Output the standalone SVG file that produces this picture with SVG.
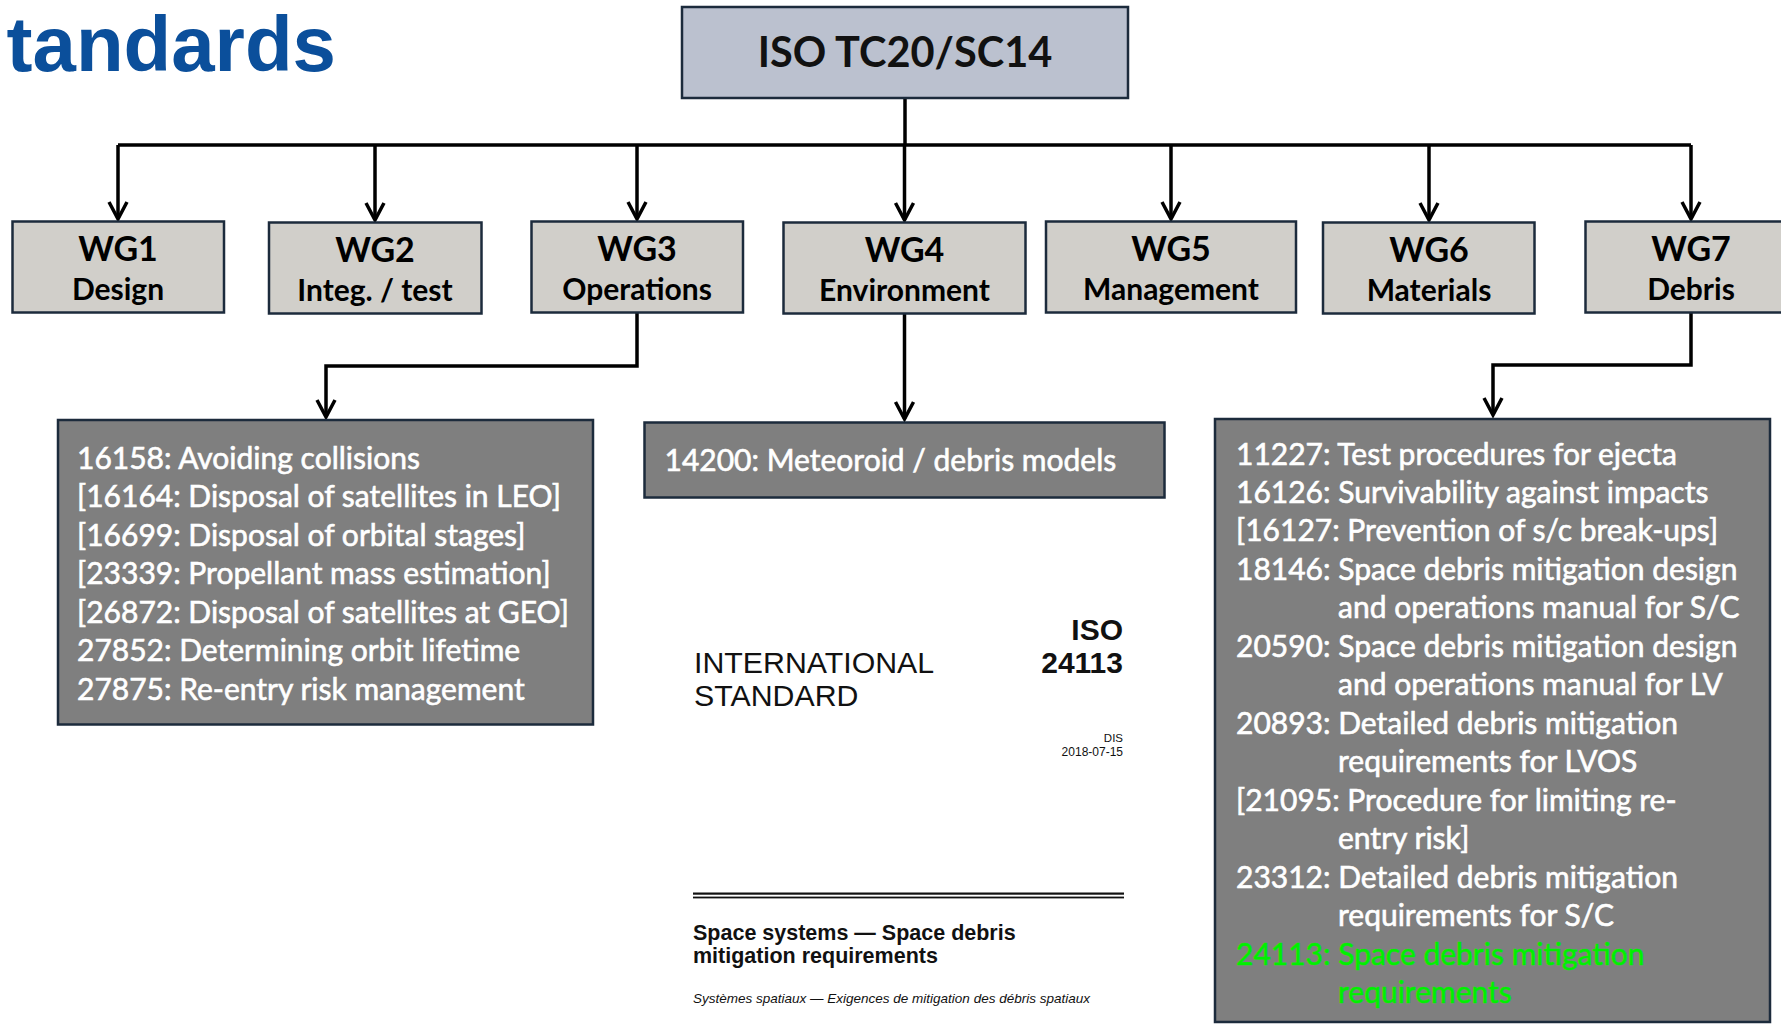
<svg xmlns="http://www.w3.org/2000/svg" width="1781" height="1025" viewBox="0 0 1781 1025">
<style>
.title{font-family:"Liberation Sans",Arial,sans-serif;font-weight:700;font-size:78px;fill:#0b4f9b}
.top rect{fill:#bbc1cf;stroke:#1c2b3c;stroke-width:2.5}
.top text{font-family:Lato,"Open Sans",sans-serif;font-weight:700;font-size:41.5px;fill:#111;text-anchor:middle}
.wg rect{fill:#d1cfca;stroke:#1c2b3c;stroke-width:2.5}
.wg text{font-family:Lato,"Open Sans",sans-serif;font-weight:700;fill:#000;text-anchor:middle}
.wg .a{font-size:34px}
.wg .b{font-size:30px}
.list rect{fill:#7f7f7f;stroke:#1c2b3c;stroke-width:2.5}
.list text{font-family:Lato,"Open Sans",sans-serif;font-size:30px;fill:#fff;stroke:#fff;stroke-width:0.6}
.list .hl{fill:#00f000;stroke:#00f000}
.conn path{fill:none;stroke:#000;stroke-width:3.5}
.doc text{font-family:"Liberation Sans",Arial,sans-serif;fill:#111}
</style>
<defs>
<marker id="arr" viewBox="-22 -12 26 24" markerWidth="26" markerHeight="24" refX="0" refY="0" orient="auto" markerUnits="userSpaceOnUse">
<path d="M-17,-9 L0,0 L-17,9" fill="none" stroke="#000" stroke-width="3.5"/>
</marker>
</defs>
<rect width="1781" height="1025" fill="#fff"/>
<text class="title" x="336" y="71" text-anchor="end">tandards</text>

<g class="conn" id="connectors">
<path d="M905,98 V145"/>
<path d="M118,145 H1691"/>
<path d="M118,145 V219" marker-end="url(#arr)"/>
<path d="M375,145 V220" marker-end="url(#arr)"/>
<path d="M637,145 V219" marker-end="url(#arr)"/>
<path d="M904.5,145 V220" marker-end="url(#arr)"/>
<path d="M1171,145 V219" marker-end="url(#arr)"/>
<path d="M1429,145 V220" marker-end="url(#arr)"/>
<path d="M1691,145 V219" marker-end="url(#arr)"/>
<path d="M637,313 V366 H326 V417" marker-end="url(#arr)"/>
<path d="M904.5,314 V419" marker-end="url(#arr)"/>
<path d="M1691,313 V365 H1493 V415" marker-end="url(#arr)"/>
</g>

<g class="top" id="iso">
<rect x="682" y="7" width="446" height="91"/>
<text x="905" y="67">ISO TC20/SC14</text>
</g>

<g class="wg" id="wg1"><rect x="12.5" y="221.5" width="211.5" height="91"/><text class="a" x="118" y="261">WG1</text><text class="b" x="118" y="300">Design</text></g>
<g class="wg" id="wg2"><rect x="269" y="222.5" width="212.5" height="91"/><text class="a" x="375" y="262">WG2</text><text class="b" x="375" y="301">Integ. / test</text></g>
<g class="wg" id="wg3"><rect x="531.5" y="221.5" width="211.5" height="91"/><text class="a" x="637" y="261">WG3</text><text class="b" x="637" y="300">Operations</text></g>
<g class="wg" id="wg4"><rect x="783.5" y="222.5" width="242" height="91"/><text class="a" x="904.5" y="262">WG4</text><text class="b" x="904.5" y="301">Environment</text></g>
<g class="wg" id="wg5"><rect x="1046" y="221.5" width="250" height="91"/><text class="a" x="1171" y="261">WG5</text><text class="b" x="1171" y="300">Management</text></g>
<g class="wg" id="wg6"><rect x="1323" y="222.5" width="211.5" height="91"/><text class="a" x="1429" y="262">WG6</text><text class="b" x="1429" y="301">Materials</text></g>
<g class="wg" id="wg7"><rect x="1585.5" y="221.5" width="211.5" height="91"/><text class="a" x="1691" y="261">WG7</text><text class="b" x="1691" y="300">Debris</text></g>

<g class="list" id="wg3-standards">
<rect x="58" y="420" width="535" height="304.5"/>
<text x="77" y="469">16158: Avoiding collisions</text>
<text x="77" y="507.4">[16164: Disposal of satellites in LEO]</text>
<text x="77" y="545.9">[16699: Disposal of orbital stages]</text>
<text x="77" y="584.3">[23339: Propellant mass estimation]</text>
<text x="77" y="622.7">[26872: Disposal of satellites at GEO]</text>
<text x="77" y="661.2">27852: Determining orbit lifetime</text>
<text x="77" y="699.6">27875: Re-entry risk management</text>
</g>

<g class="list" id="wg4-standards">
<rect x="644.5" y="422.5" width="520" height="75"/>
<text x="664.5" y="471">14200: Meteoroid / debris models</text>
</g>

<g class="list" id="wg7-standards">
<rect x="1215" y="419" width="555" height="603"/>
<text x="1236" y="464.5">11227: Test procedures for ejecta</text>
<text x="1236" y="503">16126: Survivability against impacts</text>
<text x="1236" y="541.4">[16127: Prevention of s/c break-ups]</text>
<text x="1236" y="579.9">18146: Space debris mitigation design</text>
<text x="1338" y="618.3">and operations manual for S/C</text>
<text x="1236" y="656.8">20590: Space debris mitigation design</text>
<text x="1338" y="695.3">and operations manual for LV</text>
<text x="1236" y="733.7">20893: Detailed debris mitigation</text>
<text x="1338" y="772.2">requirements for LVOS</text>
<text x="1236" y="810.6">[21095: Procedure for limiting re-</text>
<text x="1338" y="849.1">entry risk]</text>
<text x="1236" y="887.5">23312: Detailed debris mitigation</text>
<text x="1338" y="926">requirements for S/C</text>
<text class="hl" x="1236" y="964.5">24113: Space debris mitigation</text>
<text class="hl" x="1338" y="1002.9">requirements</text>
</g>

<g class="doc" id="iso24113-cover">
<text x="694" y="673" font-size="30.3">INTERNATIONAL</text>
<text x="694" y="706" font-size="30.3">STANDARD</text>
<text x="1123" y="640" font-size="30" font-weight="700" text-anchor="end">ISO</text>
<text x="1123" y="673" font-size="30" font-weight="700" text-anchor="end">24113</text>
<text x="1123" y="742" font-size="11.5" text-anchor="end">DIS</text>
<text x="1123" y="756" font-size="12" text-anchor="end">2018-07-15</text>
<rect x="693" y="892.5" width="431" height="2.2" fill="#111"/>
<rect x="693" y="896.6" width="431" height="1.8" fill="#111"/>
<text x="693" y="940" font-size="21.5" font-weight="700">Space systems — Space debris</text>
<text x="693" y="963" font-size="21.5" font-weight="700">mitigation requirements</text>
<text x="693" y="1002.5" font-size="13.5" font-style="italic" fill="#333">Systèmes spatiaux — Exigences de mitigation des débris spatiaux</text>
</g>
</svg>
